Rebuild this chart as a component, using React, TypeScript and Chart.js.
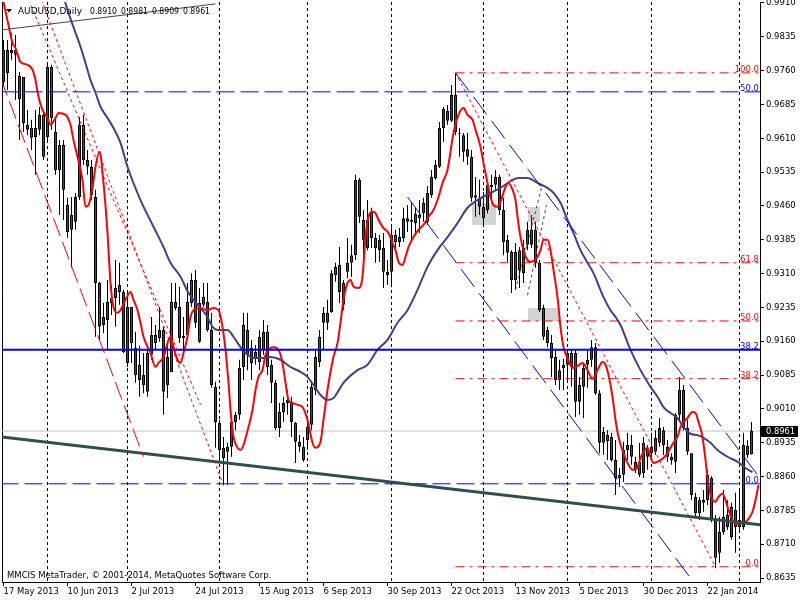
import React, { useEffect, useRef } from 'react';
import { Chart, registerables } from 'chart.js';

Chart.register(...registerables);

const FONT_FAMILY = "'DejaVu Sans', 'Liberation Sans', Arial, sans-serif";
const FONT_SIZE = 8.5;

// ---- Daily AUDUSD bars, index 0 = 17 May 2013, last = 6 Feb 2014 ----
const barOpen = [
  0.9735, 0.9755, 0.9806, 0.9806, 0.9697, 0.9746, 0.9640, 0.9611, 0.9633, 0.9629,
  0.9662, 0.9613, 0.9768, 0.9624, 0.9540, 0.9595, 0.9402, 0.9440, 0.9425, 0.9480,
  0.9640, 0.9562, 0.9484, 0.9480, 0.9289, 0.9196, 0.9207, 0.9245, 0.9256, 0.9285,
  0.9269, 0.9112, 0.9236, 0.9145, 0.9108, 0.9085, 0.9048, 0.9130, 0.9156, 0.9167,
  0.9185, 0.9063, 0.9092, 0.9247, 0.9236, 0.9172, 0.9174, 0.9245, 0.9296, 0.9245,
  0.9241, 0.9247, 0.9185, 0.9059, 0.8979, 0.8924, 0.8915, 0.8926, 0.8981, 0.8997,
  0.9103, 0.9185, 0.9145, 0.9136, 0.9114, 0.9141, 0.9181, 0.9108, 0.9068, 0.8968,
  0.9003, 0.9030, 0.9026, 0.8979, 0.8937, 0.8926, 0.8941, 0.8975, 0.9052, 0.9114,
  0.9201, 0.9223, 0.9225, 0.9307, 0.9329, 0.9289, 0.9314, 0.9334, 0.9351, 0.9518,
  0.9429, 0.9367, 0.9447, 0.9389, 0.9385, 0.9367, 0.9314, 0.9314, 0.9396, 0.9380,
  0.9389, 0.9433, 0.9429, 0.9422, 0.9433, 0.9444, 0.9425, 0.9484, 0.9522, 0.9547,
  0.9633, 0.9671, 0.9649, 0.9706, 0.9622, 0.9617, 0.9586, 0.9569, 0.9484, 0.9478,
  0.9458, 0.9451, 0.9507, 0.9507, 0.9524, 0.9451, 0.9385, 0.9358, 0.9296, 0.9362,
  0.9311, 0.9374, 0.9374, 0.9407, 0.9334, 0.9234, 0.9185, 0.9156, 0.9125, 0.9074,
  0.9101, 0.9134, 0.9103, 0.9134, 0.9026, 0.9059, 0.9119, 0.9119, 0.9147, 0.9045,
  0.8959, 0.8952, 0.8948, 0.8897, 0.8864, 0.8864, 0.8919, 0.8930, 0.8875, 0.8893,
  0.8868, 0.8924, 0.8912, 0.8915, 0.8935, 0.8963, 0.8926, 0.8904, 0.8893, 0.8997,
  0.9052, 0.8968, 0.8912, 0.8815, 0.8779, 0.8808, 0.8808, 0.8857, 0.8764, 0.8691,
  0.8737, 0.8775, 0.8726, 0.8786, 0.8748, 0.8748, 0.8928, 0.8910,
];
const barHigh = [
  0.9828, 0.9828, 0.9844, 0.9839, 0.9757, 0.9746, 0.9673, 0.9651, 0.9673, 0.9680,
  0.9673, 0.9773, 0.9773, 0.9655, 0.9606, 0.9606, 0.9478, 0.9480, 0.9489, 0.9657,
  0.9662, 0.9584, 0.9562, 0.9496, 0.9292, 0.9245, 0.9296, 0.9285, 0.9340, 0.9334,
  0.9274, 0.9267, 0.9236, 0.9181, 0.9150, 0.9134, 0.9141, 0.9214, 0.9196, 0.9236,
  0.9192, 0.9156, 0.9289, 0.9289, 0.9281, 0.9214, 0.9289, 0.9311, 0.9318, 0.9278,
  0.9289, 0.9289, 0.9223, 0.9070, 0.8986, 0.8948, 0.8935, 0.8986, 0.9003, 0.9119,
  0.9223, 0.9223, 0.9163, 0.9152, 0.9185, 0.9207, 0.9196, 0.9119, 0.9074, 0.9023,
  0.9037, 0.9052, 0.9037, 0.8981, 0.8952, 0.8948, 0.8981, 0.9068, 0.9141, 0.9185,
  0.9236, 0.9252, 0.9318, 0.9334, 0.9369, 0.9296, 0.9389, 0.9374, 0.9529, 0.9522,
  0.9451, 0.9473, 0.9456, 0.9400, 0.9396, 0.9400, 0.9340, 0.9413, 0.9407, 0.9411,
  0.9456, 0.9462, 0.9467, 0.9456, 0.9473, 0.9478, 0.9504, 0.9540, 0.9562, 0.9646,
  0.9680, 0.9684, 0.9728, 0.9755, 0.9633, 0.9622, 0.9622, 0.9584, 0.9524, 0.9518,
  0.9491, 0.9513, 0.9529, 0.9540, 0.9529, 0.9478, 0.9396, 0.9362, 0.9378, 0.9369,
  0.9385, 0.9425, 0.9440, 0.9425, 0.9340, 0.9241, 0.9192, 0.9174, 0.9141, 0.9119,
  0.9121, 0.9141, 0.9141, 0.9141, 0.9081, 0.9112, 0.9141, 0.9163, 0.9156, 0.9052,
  0.8970, 0.8963, 0.8957, 0.8941, 0.8879, 0.8937, 0.8957, 0.8952, 0.8904, 0.8935,
  0.8948, 0.8930, 0.8957, 0.8963, 0.8990, 0.8970, 0.8941, 0.8912, 0.9001, 0.9081,
  0.9063, 0.8986, 0.8912, 0.8824, 0.8815, 0.8830, 0.8875, 0.8861, 0.8775, 0.8771,
  0.8830, 0.8808, 0.8802, 0.8824, 0.8830, 0.8957, 0.8941, 0.8981,
];
const barLow = [
  0.9724, 0.9717, 0.9784, 0.9695, 0.9606, 0.9624, 0.9617, 0.9584, 0.9529, 0.9617,
  0.9562, 0.9606, 0.9629, 0.9529, 0.9440, 0.9429, 0.9389, 0.9323, 0.9407, 0.9473,
  0.9551, 0.9529, 0.9473, 0.9170, 0.9163, 0.9178, 0.9141, 0.9218, 0.9192, 0.9241,
  0.9134, 0.9103, 0.9112, 0.9068, 0.9037, 0.9045, 0.9037, 0.9119, 0.9141, 0.9159,
  0.8997, 0.9034, 0.9092, 0.9229, 0.9156, 0.9141, 0.9170, 0.9236, 0.9190, 0.9156,
  0.9236, 0.9181, 0.9057, 0.8924, 0.8901, 0.8841, 0.8841, 0.8904, 0.8963, 0.8986,
  0.9074, 0.9096, 0.9074, 0.9108, 0.9096, 0.9130, 0.9085, 0.9023, 0.8963, 0.8948,
  0.8981, 0.8997, 0.8948, 0.8890, 0.8915, 0.8893, 0.8919, 0.8963, 0.9041, 0.9103,
  0.9141, 0.9185, 0.9223, 0.9292, 0.9245, 0.9229, 0.9300, 0.9303, 0.9340, 0.9422,
  0.9347, 0.9362, 0.9367, 0.9334, 0.9336, 0.9278, 0.9285, 0.9280, 0.9362, 0.9369,
  0.9380, 0.9402, 0.9385, 0.9396, 0.9400, 0.9425, 0.9418, 0.9478, 0.9518, 0.9544,
  0.9602, 0.9640, 0.9646, 0.9617, 0.9569, 0.9558, 0.9551, 0.9469, 0.9436, 0.9440,
  0.9413, 0.9444, 0.9473, 0.9496, 0.9440, 0.9351, 0.9336, 0.9267, 0.9274, 0.9278,
  0.9289, 0.9362, 0.9367, 0.9323, 0.9225, 0.9163, 0.9147, 0.9081, 0.9063, 0.9052,
  0.9052, 0.9070, 0.9059, 0.8992, 0.8997, 0.8990, 0.9057, 0.9103, 0.9041, 0.8912,
  0.8908, 0.8897, 0.8893, 0.8819, 0.8837, 0.8848, 0.8897, 0.8886, 0.8868, 0.8859,
  0.8857, 0.8875, 0.8901, 0.8908, 0.8926, 0.8908, 0.8893, 0.8886, 0.8868, 0.8986,
  0.8963, 0.8908, 0.8808, 0.8768, 0.8764, 0.8782, 0.8797, 0.8759, 0.8657, 0.8669,
  0.8731, 0.8742, 0.8720, 0.8691, 0.8742, 0.8742, 0.8901, 0.8909,
];
const barClose = [
  0.9806, 0.9806, 0.9799, 0.9795, 0.9748, 0.9644, 0.9629, 0.9633, 0.9613, 0.9662,
  0.9569, 0.9768, 0.9655, 0.9540, 0.9595, 0.9496, 0.9462, 0.9407, 0.9480, 0.9640,
  0.9562, 0.9547, 0.9547, 0.9289, 0.9192, 0.9214, 0.9247, 0.9256, 0.9278, 0.9269,
  0.9136, 0.9236, 0.9156, 0.9085, 0.9074, 0.9063, 0.9134, 0.9174, 0.9174, 0.9185,
  0.9048, 0.9125, 0.9247, 0.9234, 0.9167, 0.9167, 0.9247, 0.9296, 0.9201, 0.9159,
  0.9258, 0.9185, 0.9063, 0.8981, 0.8919, 0.8901, 0.8926, 0.8981, 0.8997, 0.9101,
  0.9196, 0.9130, 0.9112, 0.9123, 0.9170, 0.9181, 0.9103, 0.9068, 0.8968, 0.9003,
  0.9023, 0.9023, 0.8981, 0.8937, 0.8926, 0.8897, 0.8970, 0.9059, 0.9125, 0.9170,
  0.9223, 0.9201, 0.9311, 0.9325, 0.9269, 0.9241, 0.9334, 0.9351, 0.9518, 0.9436,
  0.9385, 0.9429, 0.9389, 0.9367, 0.9362, 0.9314, 0.9307, 0.9396, 0.9380, 0.9391,
  0.9433, 0.9425, 0.9425, 0.9442, 0.9440, 0.9467, 0.9489, 0.9524, 0.9551, 0.9633,
  0.9675, 0.9649, 0.9706, 0.9624, 0.9620, 0.9580, 0.9569, 0.9478, 0.9478, 0.9458,
  0.9433, 0.9507, 0.9502, 0.9524, 0.9451, 0.9380, 0.9356, 0.9296, 0.9358, 0.9318,
  0.9367, 0.9407, 0.9407, 0.9334, 0.9229, 0.9170, 0.9156, 0.9123, 0.9074, 0.9096,
  0.9108, 0.9108, 0.9134, 0.9026, 0.9063, 0.9101, 0.9108, 0.9147, 0.9045, 0.8935,
  0.8935, 0.8939, 0.8897, 0.8857, 0.8857, 0.8919, 0.8930, 0.8904, 0.8893, 0.8864,
  0.8935, 0.8904, 0.8926, 0.8946, 0.8968, 0.8930, 0.8904, 0.8897, 0.8997, 0.9052,
  0.8968, 0.8915, 0.8819, 0.8779, 0.8808, 0.8802, 0.8864, 0.8764, 0.8680, 0.8737,
  0.8771, 0.8748, 0.8793, 0.8748, 0.8764, 0.8930, 0.8908, 0.8961,
];

// ---- axes ----
const dateTickIndex = [0, 16, 32, 48, 64, 80, 96, 112, 128, 144, 160, 176];
const dateTickLabels = [
  '17 May 2013', '10 Jun 2013', '2 Jul 2013', '24 Jul 2013', '15 Aug 2013', '6 Sep 2013',
  '30 Sep 2013', '22 Oct 2013', '13 Nov 2013', '5 Dec 2013', '30 Dec 2013', '22 Jan 2014',
];
const monthStartIndex = [11, 31, 54, 76, 97, 120, 141, 162, 184];
const priceTicks = [
  0.8635, 0.8710, 0.8785, 0.8860, 0.8935, 0.9010, 0.9085, 0.9160, 0.9235,
  0.9310, 0.9385, 0.9460, 0.9535, 0.9610, 0.9685, 0.9760, 0.9835, 0.9910,
];

// ---- indicator lines: [bar index, price] ----
const fastMa = [
  [0, 0.9912], [1.25, 0.9861], [2.25, 0.9821], [3, 0.9810], [4.25, 0.9779], [6, 0.9773], [7.25, 0.9762],
  [8, 0.9739], [8.75, 0.9702], [9.75, 0.9673], [11, 0.9655], [11.75, 0.9640], [13, 0.9655], [13.75, 0.9666],
  [15.5, 0.9662], [16.75, 0.9640], [17.5, 0.9606], [18.5, 0.9569], [19.75, 0.9518], [20.5, 0.9458],
  [21.25, 0.9462], [22.25, 0.9500], [23, 0.9547], [24, 0.9580], [25, 0.9511], [26, 0.9400], [26.75, 0.9289],
  [27.5, 0.9236], [28.5, 0.9223], [29.25, 0.9229], [30.5, 0.9252], [31.75, 0.9269], [32.5, 0.9252],
  [33.5, 0.9229], [34.25, 0.9201], [35, 0.9170], [36.75, 0.9134], [38, 0.9103], [38.75, 0.9112],
  [40, 0.9125], [41, 0.9156], [41.75, 0.9170], [42.5, 0.9147], [43.5, 0.9119], [44.25, 0.9112],
  [45, 0.9134], [46, 0.9170], [46.75, 0.9214], [47.5, 0.9229], [49.25, 0.9234], [51, 0.9229],
  [52.5, 0.9234], [53.75, 0.9229], [54.75, 0.9192], [55.5, 0.9141], [56.25, 0.9068], [56.75, 0.9008],
  [57.5, 0.8948], [58.5, 0.8924], [59.25, 0.8919], [60, 0.8930], [61.25, 0.8970], [62.25, 0.9008],
  [63, 0.9052], [63.75, 0.9081], [64.75, 0.9096], [65.5, 0.9130], [66.75, 0.9145], [67.5, 0.9147],
  [68.75, 0.9141], [69.75, 0.9112], [70.5, 0.9068], [71.25, 0.9030], [72.25, 0.9023], [73.5, 0.9019],
  [74.75, 0.9014], [76, 0.8986], [77.25, 0.8935], [78, 0.8924], [79.25, 0.8937], [80, 0.8986],
  [81, 0.9052], [81.75, 0.9092], [82.5, 0.9125], [83.5, 0.9156], [84.25, 0.9201], [85, 0.9252],
  [86, 0.9289], [86.75, 0.9296], [87.5, 0.9281], [88.75, 0.9278], [89.75, 0.9303], [90.5, 0.9391],
  [91.25, 0.9436], [92.25, 0.9447], [93, 0.9444], [93.75, 0.9429], [95, 0.9411], [96.25, 0.9400],
  [97.25, 0.9378], [98, 0.9362], [98.75, 0.9336], [99.75, 0.9329], [100.5, 0.9347], [101.25, 0.9369],
  [102.5, 0.9391], [103.75, 0.9407], [105, 0.9418], [106.25, 0.9436], [107.5, 0.9451], [108.75, 0.9480],
  [109.75, 0.9511], [111, 0.9540], [112.5, 0.9622], [113.75, 0.9662], [115, 0.9677], [116, 0.9662],
  [117.25, 0.9651], [118, 0.9629], [119.25, 0.9591], [120, 0.9555], [121, 0.9511], [121.75, 0.9480],
  [122.5, 0.9462], [123.5, 0.9458], [124.25, 0.9469], [125.5, 0.9502], [126.25, 0.9511], [127.25, 0.9496],
  [128, 0.9473], [128.5, 0.9436], [129.25, 0.9391], [130, 0.9362], [131, 0.9340], [131.75, 0.9336],
  [133.5, 0.9347], [134.25, 0.9362], [135, 0.9385], [136, 0.9385], [136.75, 0.9362], [137.5, 0.9318],
  [138.5, 0.9258], [139.25, 0.9192], [140, 0.9147], [141, 0.9123], [142.25, 0.9101], [143.5, 0.9105],
  [144.75, 0.9112], [146, 0.9096], [147.25, 0.9077], [148.5, 0.9096], [149.75, 0.9114], [150.5, 0.9108],
  [151.25, 0.9085], [152.25, 0.9037], [153, 0.8986], [153.75, 0.8948], [155, 0.8912], [156.25, 0.8886],
  [157.25, 0.8875], [158.5, 0.8881], [159.25, 0.8901], [160, 0.8915], [161, 0.8924], [161.75, 0.8904],
  [162.5, 0.8890], [163.5, 0.8893], [165, 0.8901], [166, 0.8912], [166.75, 0.8924], [167.5, 0.8935],
  [168.5, 0.8948], [169.25, 0.8970], [171, 0.8990], [172.25, 0.9003], [173, 0.9001], [173.75, 0.8981],
  [174.75, 0.8948], [175.5, 0.8897], [176.25, 0.8841], [177.25, 0.8808], [178, 0.8804], [178.75, 0.8815],
  [179.75, 0.8822], [180.5, 0.8808], [181.25, 0.8786], [182.25, 0.8764], [183.25, 0.8755], [184.25, 0.8757],
  [185.5, 0.8759], [186.25, 0.8766], [187.25, 0.8782], [188, 0.8808], [188.75, 0.8841],
];
const slowMa = [
  [15.25, 0.9917], [16.25, 0.9888], [18, 0.9844], [19.25, 0.9813], [20.5, 0.9777], [21.75, 0.9739],
  [23, 0.9711], [24.25, 0.9680], [26, 0.9655], [27.5, 0.9633], [29.25, 0.9600], [31, 0.9547],
  [34.25, 0.9473], [37.5, 0.9414], [40, 0.9369], [41.75, 0.9334], [44.25, 0.9303], [46.25, 0.9267],
  [48.5, 0.9241], [51, 0.9214], [52.25, 0.9192], [53.5, 0.9185], [56, 0.9185], [57.5, 0.9170],
  [59.25, 0.9147], [61, 0.9130], [62.5, 0.9123], [65, 0.9123], [66.75, 0.9125], [69.25, 0.9119],
  [71.75, 0.9103], [74.25, 0.9092], [76, 0.9081], [77.5, 0.9063], [79.25, 0.9041], [81, 0.9030],
  [82.5, 0.9034], [85, 0.9068], [88.5, 0.9096], [91, 0.9108], [93.5, 0.9141], [96, 0.9163],
  [98.5, 0.9201], [101, 0.9229], [103.5, 0.9274], [106, 0.9325], [108.5, 0.9362], [111, 0.9391],
  [113.5, 0.9422], [116, 0.9456], [118.5, 0.9473], [121.75, 0.9489], [124.25, 0.9500], [127.25, 0.9518],
  [128.75, 0.9522], [131, 0.9522], [133.5, 0.9511], [136, 0.9500], [137.5, 0.9489], [139.25, 0.9467],
  [141, 0.9429], [142.5, 0.9400], [144.25, 0.9362], [146, 0.9334], [147.5, 0.9311], [150, 0.9258],
  [151.75, 0.9229], [153, 0.9214], [154.25, 0.9196], [156.75, 0.9141], [159.25, 0.9096], [161.75, 0.9059],
  [163.5, 0.9037], [165, 0.9014], [166.75, 0.9001], [168.5, 0.8990], [170, 0.8970], [171.75, 0.8955],
  [173.5, 0.8952], [175, 0.8946], [176.75, 0.8935], [178.5, 0.8919], [181, 0.8904], [183.5, 0.8893],
  [185.5, 0.8879], [187.25, 0.8870],
];

// ---- drawn objects: anchor points [bar index, price] ----
const redChannelA = [[-0.75, 0.9744], [35, 0.8904]];
const redChannelB = [[6.25, 0.9917], [49.25, 0.9019]];
const redChannelC = [[9.5, 0.9917], [54.75, 0.8846]];
const upperTrendLine = [[-0.75, 0.9850], [53, 0.9908]];
const supportLine = [[-0.75, 0.8948], [189.25, 0.8753]];
const blueChannelUpper = [[113, 0.9755], [189.25, 0.8855]];
const blueChannelLower = [[101, 0.9480], [172.5, 0.8626]];
const fibDiagonal = [[113, 0.9755], [178, 0.8660]];
const pitchforkA = [[128, 0.9274], [134.5, 0.9500]];
const pitchforkB = [[131, 0.9262], [135.75, 0.9462]];

const redFibStart = 113;
const redFibLabels = ['100.0', '61.8', '50.0', '38.2', '0.0'];
const redFibPrices = [0.9755, 0.9334, 0.9205, 0.9077, 0.8660];
const blueFibLabels = ['50.0', '38.2', '0.0'];
const blueFibPrices = [0.9713, 0.9141, 0.8844];

// gray rectangles: [from index, to index, top price, bottom price]
const grayBoxes = [
  [117, 123, 0.9467, 0.9418],
  [131, 134, 0.9458, 0.9425],
  [131, 138.75, 0.9234, 0.9205],
];

const symbolTitle = 'AUDUSD,Daily';
const copyrightText = 'MMCIS MetaTrader, \u00A9 2001-2014, MetaQuotes Software Corp.';

const X_MIN = -0.375;
const X_MAX = 189.125;
const Y_MIN = 0.86263;
const Y_MAX = 0.99122;
const RIGHT_EDGE = 189.25;

const font = (size: number) => `${size}px ${FONT_FAMILY}`;

const mt4Plugin: any = {
  id: 'mt4Overlay',
  beforeDraw(chart: any) {
    const { ctx, chartArea: a, scales } = chart;
    const x = scales.x;
    const y = scales.y;
    ctx.save();
    ctx.fillStyle = '#ffffff';
    ctx.fillRect(0, 0, chart.width, chart.height);
    ctx.beginPath();
    ctx.rect(a.left, a.top, a.right - a.left, a.bottom - a.top);
    ctx.clip();
    ctx.fillStyle = '#D3D3D3';
    for (const b of grayBoxes) {
      const x0 = Math.round(x.getPixelForValue(b[0]));
      const x1 = Math.round(x.getPixelForValue(b[1]));
      const y0 = Math.round(y.getPixelForValue(b[2]));
      const y1 = Math.round(y.getPixelForValue(b[3]));
      ctx.fillRect(x0, y0, x1 - x0, y1 - y0);
    }
    ctx.restore();
  },
  afterDatasetsDraw(chart: any) {
    const { ctx, scales } = chart;
    const y = scales.y;
    const xr = chart.chartArea.right - 1;
    ctx.save();
    ctx.font = font(FONT_SIZE);
    ctx.textAlign = 'right';
    ctx.textBaseline = 'alphabetic';
    ctx.fillStyle = '#FF0000';
    redFibLabels.forEach((t, k) => {
      ctx.fillText(t, xr, Math.round(y.getPixelForValue(redFibPrices[k])) - 1);
    });
    ctx.fillStyle = '#0000FF';
    blueFibLabels.forEach((t, k) => {
      ctx.fillText(t, xr, Math.round(y.getPixelForValue(blueFibPrices[k])) - 1);
    });
    ctx.restore();
  },
  afterDraw(chart: any) {
    const { ctx, scales } = chart;
    const y = scales.y;
    const last = barClose.length - 1;
    ctx.save();
    // header
    ctx.fillStyle = '#000000';
    ctx.beginPath();
    ctx.moveTo(6, 9);
    ctx.lineTo(12, 9);
    ctx.lineTo(9, 12.5);
    ctx.closePath();
    ctx.fill();
    ctx.font = font(9);
    ctx.textAlign = 'left';
    ctx.textBaseline = 'alphabetic';
    ctx.fillText(symbolTitle, 18, 14, 64);
    const quote = [barOpen[last], barHigh[last], barLow[last], barClose[last]];
    const qx = [90, 121, 152, 183];
    quote.forEach((v, k) => ctx.fillText(v.toFixed(4), qx[k], 14, 27));
    // copyright
    ctx.font = font(FONT_SIZE);
    ctx.fillText(copyrightText, 7, 578, 271);
    // current price box
    const py = Math.round(y.getPixelForValue(barClose[last]));
    ctx.fillStyle = '#000000';
    ctx.fillRect(761, py - 5, 37, 11);
    ctx.fillStyle = '#FFFFFF';
    ctx.textBaseline = 'middle';
    ctx.fillText(barClose[last].toFixed(4), 766, py + 0.5, 29);
    ctx.restore();
  },
};

const line = (pts: number[][], color: string, width: number, dash: number[], order: number, smooth = false) => ({
  type: 'line',
  data: pts.map(([px, py]) => ({ x: px, y: py })),
  borderColor: color,
  backgroundColor: color,
  borderWidth: width,
  borderDash: dash,
  pointRadius: 0,
  pointHoverRadius: 0,
  fill: false,
  tension: 0,
  cubicInterpolationMode: smooth ? 'monotone' : 'default',
  order,
  xAxisID: 'x',
  yAxisID: 'y',
});

export default function App() {
  const canvasRef = useRef<HTMLCanvasElement | null>(null);

  useEffect(() => {
    const canvas = canvasRef.current;
    if (!canvas) return;
    const idx = barClose.map((_, i) => i);

    const datasets: any[] = [];
    // objects (top)
    datasets.push(line(redChannelA, '#FF0000', 1, [19, 6], 0));
    datasets.push(line(redChannelB, '#FF0000', 1, [3, 3], 0));
    datasets.push(line(redChannelC, '#FF0000', 1, [3, 3], 0));
    datasets.push(line(upperTrendLine, '#2F4F4F', 1, [], 0));
    datasets.push(line(supportLine, '#2F4F4F', 3, [], 0));
    datasets.push(line(blueChannelUpper, '#0000FF', 1, [22, 8], 0));
    datasets.push(line(blueChannelLower, '#0000FF', 1, [22, 8], 0));
    datasets.push(line(fibDiagonal, '#FF0000', 1, [3, 3], 0));
    datasets.push(line(pitchforkA, '#2F4F4F', 1, [3, 3], 0));
    datasets.push(line(pitchforkB, '#2F4F4F', 1, [3, 3], 0));
    redFibPrices.forEach((p) => {
      datasets.push(line([[redFibStart, p], [RIGHT_EDGE, p]], '#FF0000', 1, [9, 5, 3, 5], 0));
    });
    blueFibPrices.forEach((p, k) => {
      const solid = blueFibLabels[k] === '38.2';
      datasets.push(line([[-0.75, p], [RIGHT_EDGE, p]], '#0000FF', solid ? 2 : 1, solid ? [] : [18, 6], 0));
    });
    // moving averages
    datasets.push(line(fastMa, '#FF0000', 2, [], 1, true));
    datasets.push(line(slowMa, '#483D8B', 2, [], 1, true));
    // candles
    datasets.push({
      type: 'bar',
      data: idx.map((i) => ({ x: i, y: [Math.min(barOpen[i], barClose[i]), Math.max(barOpen[i], barClose[i])] })),
      backgroundColor: idx.map((i) => (barClose[i] >= barOpen[i] ? '#008000' : '#FF0000')),
      borderColor: '#000000',
      borderWidth: 1,
      borderSkipped: false,
      barThickness: 3,
      minBarLength: 1,
      grouped: false,
      inflateAmount: 0,
      order: 2,
      xAxisID: 'x',
      yAxisID: 'y',
    });
    datasets.push({
      type: 'bar',
      data: idx.map((i) => ({ x: i, y: [barLow[i], barHigh[i]] })),
      backgroundColor: '#000000',
      borderWidth: 0,
      barThickness: 1,
      minBarLength: 1,
      grouped: false,
      inflateAmount: 0,
      order: 3,
      xAxisID: 'x',
      yAxisID: 'y',
    });
    // bid line
    datasets.push(line([[-0.75, barClose[barClose.length - 1]], [RIGHT_EDGE, barClose[barClose.length - 1]]], '#C0C0C0', 1, [], 4));

    const tickFont = { family: FONT_FAMILY, size: FONT_SIZE };

    const chart = new Chart(canvas, {
      type: 'bar',
      data: { datasets },
      plugins: [mt4Plugin],
      options: {
        responsive: false,
        animation: false,
        devicePixelRatio: 1,
        events: [],
        layout: { padding: { left: 2, top: 2, right: 0, bottom: 0 } },
        plugins: {
          legend: { display: false },
          tooltip: { enabled: false },
          title: { display: false },
        },
        scales: {
          x: {
            type: 'linear',
            position: 'bottom',
            min: X_MIN,
            max: X_MAX,
            offset: false,
            afterBuildTicks: (s: any) => {
              s.ticks = monthStartIndex.map((v) => ({ value: v }));
            },
            afterFit: (s: any) => {
              s.height = 0;
              s.paddingLeft = 0;
              s.paddingRight = 0;
            },
            ticks: { display: false },
            grid: { display: true, drawOnChartArea: true, drawTicks: false, color: '#000000', lineWidth: 1, offset: false },
            border: { display: true, color: '#000000', width: 1, dash: [3, 3] },
          },
          xl: {
            type: 'linear',
            position: 'bottom',
            min: X_MIN,
            max: X_MAX,
            offset: false,
            afterBuildTicks: (s: any) => {
              s.ticks = dateTickIndex.map((v) => ({ value: v }));
            },
            afterFit: (s: any) => {
              s.height = 18;
              s.paddingLeft = 0;
              s.paddingRight = 0;
            },
            ticks: {
              align: 'start',
              padding: 1,
              autoSkip: false,
              maxRotation: 0,
              minRotation: 0,
              color: '#000000',
              font: tickFont,
              callback: (v: any) => {
                const k = dateTickIndex.indexOf(Number(v));
                return k >= 0 ? dateTickLabels[k] : '';
              },
            },
            grid: { drawOnChartArea: false, drawTicks: true, tickLength: 4, color: '#000000', offset: false },
            border: { display: true, color: '#000000' },
          },
          y: {
            type: 'linear',
            position: 'right',
            min: Y_MIN,
            max: Y_MAX,
            beginAtZero: false,
            afterBuildTicks: (s: any) => {
              s.ticks = priceTicks.map((v) => ({ value: v }));
            },
            afterFit: (s: any) => {
              s.width = 40;
              s.paddingTop = 0;
              s.paddingBottom = 0;
            },
            ticks: {
              padding: 2,
              autoSkip: false,
              color: '#000000',
              font: tickFont,
              callback: (v: any) => Number(v).toFixed(4),
            },
            grid: { drawOnChartArea: false, drawTicks: true, tickLength: 4, color: '#000000' },
            border: { display: true, color: '#000000' },
          },
          yl: {
            type: 'linear',
            position: 'left',
            min: Y_MIN,
            max: Y_MAX,
            ticks: { display: false },
            grid: { drawOnChartArea: false, drawTicks: false },
            border: { display: true, color: '#000000' },
            afterFit: (s: any) => {
              s.width = 0;
              s.paddingTop = 0;
              s.paddingBottom = 0;
            },
          },
        },
      } as any,
    } as any);

    return () => chart.destroy();
  }, []);

  return (
    <div style={{ position: 'fixed', left: 0, top: 0, width: 800, height: 600, background: '#ffffff' }}>
      <canvas ref={canvasRef} width={800} height={600} style={{ display: 'block', width: 800, height: 600 }} />
    </div>
  );
}
